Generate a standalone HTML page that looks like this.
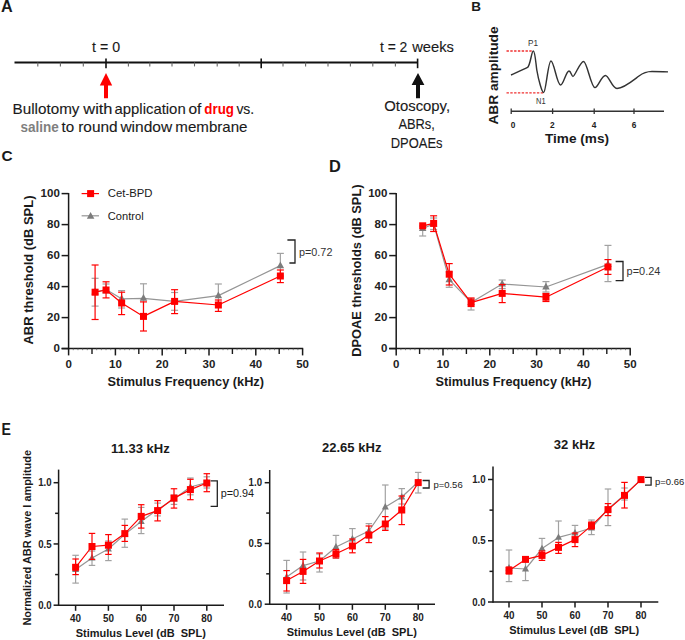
<!DOCTYPE html>
<html><head><meta charset="utf-8"><style>
html,body{margin:0;padding:0;background:#fff;}
svg{display:block;font-family:'Liberation Sans', sans-serif;}
</style></head><body>
<svg width="685" height="640" viewBox="0 0 685 640">
<rect width="685" height="640" fill="#fff"/>
<text x="1.0" y="11.8" font-size="16.2" font-weight="700" text-anchor="start" fill="#1a1a1a" >A</text>
<line x1="14.5" y1="62.4" x2="417.8" y2="62.4" stroke="#111" stroke-width="2" />
<line x1="37.8" y1="62.4" x2="37.8" y2="66.4" stroke="#666" stroke-width="1.1" />
<line x1="60.4" y1="62.4" x2="60.4" y2="66.4" stroke="#666" stroke-width="1.1" />
<line x1="83.3" y1="62.4" x2="83.3" y2="66.4" stroke="#666" stroke-width="1.1" />
<line x1="128.4" y1="62.4" x2="128.4" y2="66.4" stroke="#666" stroke-width="1.1" />
<line x1="149.8" y1="62.4" x2="149.8" y2="66.4" stroke="#666" stroke-width="1.1" />
<line x1="172" y1="62.4" x2="172" y2="66.4" stroke="#666" stroke-width="1.1" />
<line x1="194.5" y1="62.4" x2="194.5" y2="66.4" stroke="#666" stroke-width="1.1" />
<line x1="217.2" y1="62.4" x2="217.2" y2="66.4" stroke="#666" stroke-width="1.1" />
<line x1="239.2" y1="62.4" x2="239.2" y2="66.4" stroke="#666" stroke-width="1.1" />
<line x1="283" y1="62.4" x2="283" y2="66.4" stroke="#666" stroke-width="1.1" />
<line x1="305.6" y1="62.4" x2="305.6" y2="66.4" stroke="#666" stroke-width="1.1" />
<line x1="328" y1="62.4" x2="328" y2="66.4" stroke="#666" stroke-width="1.1" />
<line x1="350.4" y1="62.4" x2="350.4" y2="66.4" stroke="#666" stroke-width="1.1" />
<line x1="372.8" y1="62.4" x2="372.8" y2="66.4" stroke="#666" stroke-width="1.1" />
<line x1="395.4" y1="62.4" x2="395.4" y2="66.4" stroke="#666" stroke-width="1.1" />
<line x1="106" y1="58.6" x2="106" y2="68.2" stroke="#111" stroke-width="1.6" />
<line x1="261.2" y1="58.6" x2="261.2" y2="68.2" stroke="#111" stroke-width="1.6" />
<line x1="417.6" y1="58.6" x2="417.6" y2="68.2" stroke="#111" stroke-width="1.6" />
<polygon points="106,73 112.2,85.5 108,85.5 108,98.3 104,98.3 104,85.5 99.8,85.5" fill="#ff0000"/>
<polygon points="418,73 424.4,85 420,85 420,98.3 416,98.3 416,85 411.6,85" fill="#111"/>
<text x="12.6" y="114" font-size="14.6" font-weight="400" text-anchor="start" fill="#1a1a1a" textLength="66.9" lengthAdjust="spacingAndGlyphs" stroke="#1a1a1a" stroke-width="0.12" >Bullotomy</text>
<text x="83.3" y="114" font-size="14.6" font-weight="400" text-anchor="start" fill="#1a1a1a" textLength="29.18" lengthAdjust="spacingAndGlyphs" stroke="#1a1a1a" stroke-width="0.12" >with</text>
<text x="114.54" y="114" font-size="14.6" font-weight="400" text-anchor="start" fill="#1a1a1a" textLength="71.13" lengthAdjust="spacingAndGlyphs" stroke="#1a1a1a" stroke-width="0.12" >application</text>
<text x="188.47" y="114" font-size="14.6" font-weight="400" text-anchor="start" fill="#1a1a1a" textLength="12.95" lengthAdjust="spacingAndGlyphs" stroke="#1a1a1a" stroke-width="0.12" >of</text>
<text x="204.34" y="114" font-size="14.6" font-weight="700" text-anchor="start" fill="#ff0000" textLength="29.71" lengthAdjust="spacingAndGlyphs" >drug</text>
<text x="236.4" y="114" font-size="14.6" font-weight="400" text-anchor="start" fill="#1a1a1a" textLength="17.85" lengthAdjust="spacingAndGlyphs" stroke="#1a1a1a" stroke-width="0.12" >vs.</text>
<text x="20.44" y="131.8" font-size="14.6" font-weight="700" text-anchor="start" fill="#7f7f7f" textLength="38.35" lengthAdjust="spacingAndGlyphs" >saline</text>
<text x="61.64" y="131.8" font-size="14.6" font-weight="400" text-anchor="start" fill="#1a1a1a" textLength="12.66" lengthAdjust="spacingAndGlyphs" stroke="#1a1a1a" stroke-width="0.12" >to</text>
<text x="78.24" y="131.8" font-size="14.6" font-weight="400" text-anchor="start" fill="#1a1a1a" textLength="39.4" lengthAdjust="spacingAndGlyphs" stroke="#1a1a1a" stroke-width="0.12" >round</text>
<text x="120.4" y="131.8" font-size="14.6" font-weight="400" text-anchor="start" fill="#1a1a1a" textLength="51.73" lengthAdjust="spacingAndGlyphs" stroke="#1a1a1a" stroke-width="0.12" >window</text>
<text x="175.37" y="131.8" font-size="14.6" font-weight="400" text-anchor="start" fill="#1a1a1a" textLength="72.14" lengthAdjust="spacingAndGlyphs" stroke="#1a1a1a" stroke-width="0.12" >membrane</text>
<text x="92.14" y="51.6" font-size="13.8" font-weight="400" text-anchor="start" fill="#1a1a1a" textLength="27.95" lengthAdjust="spacingAndGlyphs" stroke="#1a1a1a" stroke-width="0.12" style="white-space:pre">t = 0</text>
<text x="379.95" y="51.5" font-size="13.8" font-weight="400" text-anchor="start" fill="#1a1a1a" textLength="27.39" lengthAdjust="spacingAndGlyphs" stroke="#1a1a1a" stroke-width="0.12" style="white-space:pre">t = 2</text>
<text x="412.2" y="51.5" font-size="14" font-weight="400" text-anchor="start" fill="#1a1a1a" textLength="41.66" lengthAdjust="spacingAndGlyphs" stroke="#1a1a1a" stroke-width="0.12" >weeks</text>
<text x="384.23" y="111.2" font-size="14.4" font-weight="400" text-anchor="start" fill="#1a1a1a" textLength="65.87" lengthAdjust="spacingAndGlyphs" stroke="#1a1a1a" stroke-width="0.12" >Otoscopy,</text>
<text x="398.4" y="129.1" font-size="14" font-weight="400" text-anchor="start" fill="#1a1a1a" textLength="36.48" lengthAdjust="spacingAndGlyphs" stroke="#1a1a1a" stroke-width="0.12" >ABRs,</text>
<text x="390.75" y="148" font-size="14" font-weight="400" text-anchor="start" fill="#1a1a1a" textLength="51.73" lengthAdjust="spacingAndGlyphs" stroke="#1a1a1a" stroke-width="0.12" >DPOAEs</text>
<text x="471.2" y="10.8" font-size="13.5" font-weight="700" text-anchor="start" fill="#1a1a1a" >B</text>
<text transform="translate(498.1,124.6) rotate(-90)" font-size="13.2" font-weight="700" fill="#1a1a1a" textLength="98.2" lengthAdjust="spacingAndGlyphs">ABR amplitude</text>
<line x1="506.5" y1="51" x2="533" y2="51" stroke="#f03030" stroke-width="1.3" stroke-dasharray="2.4,1.4"/>
<line x1="506.5" y1="92.8" x2="544" y2="92.8" stroke="#f03030" stroke-width="1.3" stroke-dasharray="2.4,1.4"/>
<text x="528" y="45.6" font-size="8.6" font-weight="400" text-anchor="start" fill="#333" textLength="10" lengthAdjust="spacingAndGlyphs" >P1</text>
<text x="536" y="104" font-size="8.6" font-weight="400" text-anchor="start" fill="#333" textLength="9.6" lengthAdjust="spacingAndGlyphs" >N1</text>
<path d="M511,75 C516,73 522,70 527.6,67.4 C530.5,65 531.5,51 533.3,51 C535,51 535.8,63 536.8,70 C538.5,80 542,92.6 543.6,92.6 C546,92.4 548,61 551,61 C554,61 557,85 560.5,85 C563.5,85 566,71 569,71 C571,71 571.5,76.4 573,76.4 C575,76.4 580,61.4 583.6,61.4 C587,61.4 591,87.6 595,87.6 C598,87.6 601.5,75.4 605.4,75.4 C609,75.4 612,88.4 617,88.4 C624,88.4 633,80.5 639,76 C643,73 646,71.6 652,71.4 C658,71.4 664,71.8 668,71.9" fill="none" stroke="#333" stroke-width="1.45" stroke-linejoin="round"/>
<line x1="511" y1="111.2" x2="664" y2="111.2" stroke="#333" stroke-width="1.5" />
<line x1="511.2" y1="108.4" x2="511.2" y2="114" stroke="#333" stroke-width="1.3" />
<line x1="552.6" y1="108.4" x2="552.6" y2="114" stroke="#333" stroke-width="1.3" />
<line x1="594.2" y1="108.4" x2="594.2" y2="114" stroke="#333" stroke-width="1.3" />
<line x1="634" y1="108.4" x2="634" y2="114" stroke="#333" stroke-width="1.3" />
<text x="513" y="127.6" font-size="8.3" font-weight="700" text-anchor="middle" fill="#222" >0</text>
<text x="552.4" y="127.6" font-size="8.3" font-weight="700" text-anchor="middle" fill="#222" >2</text>
<text x="594" y="127.6" font-size="8.3" font-weight="700" text-anchor="middle" fill="#222" >4</text>
<text x="634" y="127.6" font-size="8.3" font-weight="700" text-anchor="middle" fill="#222" >6</text>
<text x="545" y="143" font-size="13.4" font-weight="700" text-anchor="start" fill="#1a1a1a" textLength="64" lengthAdjust="spacingAndGlyphs" >Time (ms)</text>
<text x="1.4" y="161.2" font-size="15.4" font-weight="700" text-anchor="start" fill="#1a1a1a" >C</text>
<line x1="68.6" y1="193.0" x2="68.6" y2="349.35" stroke="#1a1a1a" stroke-width="1.5" />
<line x1="61.599999999999994" y1="348.6" x2="68.6" y2="348.6" stroke="#1a1a1a" stroke-width="1.5" />
<line x1="61.599999999999994" y1="317.6" x2="68.6" y2="317.6" stroke="#1a1a1a" stroke-width="1.5" />
<line x1="61.599999999999994" y1="286.6" x2="68.6" y2="286.6" stroke="#1a1a1a" stroke-width="1.5" />
<line x1="61.599999999999994" y1="255.60000000000002" x2="68.6" y2="255.60000000000002" stroke="#1a1a1a" stroke-width="1.5" />
<line x1="61.599999999999994" y1="224.60000000000002" x2="68.6" y2="224.60000000000002" stroke="#1a1a1a" stroke-width="1.5" />
<line x1="61.599999999999994" y1="193.60000000000002" x2="68.6" y2="193.60000000000002" stroke="#1a1a1a" stroke-width="1.5" />
<text x="59.8" y="352.1" font-size="11.5" font-weight="700" text-anchor="end" fill="#222" >0</text>
<text x="59.8" y="321.1" font-size="11.5" font-weight="700" text-anchor="end" fill="#222" >20</text>
<text x="59.8" y="290.1" font-size="11.5" font-weight="700" text-anchor="end" fill="#222" >40</text>
<text x="59.8" y="259.1" font-size="11.5" font-weight="700" text-anchor="end" fill="#222" >60</text>
<text x="59.8" y="228.10000000000002" font-size="11.5" font-weight="700" text-anchor="end" fill="#222" >80</text>
<text x="59.8" y="197.10000000000002" font-size="11.5" font-weight="700" text-anchor="end" fill="#222" >100</text>
<line x1="61.599999999999994" y1="348.6" x2="303.20000000000005" y2="348.6" stroke="#1a1a1a" stroke-width="1.5" />
<line x1="68.6" y1="348.6" x2="68.6" y2="355.40000000000003" stroke="#1a1a1a" stroke-width="1.5" />
<text x="68.6" y="368" font-size="11.5" font-weight="700" text-anchor="middle" fill="#222" >0</text>
<line x1="115.39999999999999" y1="348.6" x2="115.39999999999999" y2="355.40000000000003" stroke="#1a1a1a" stroke-width="1.5" />
<text x="115.39999999999999" y="368" font-size="11.5" font-weight="700" text-anchor="middle" fill="#222" >10</text>
<line x1="162.2" y1="348.6" x2="162.2" y2="355.40000000000003" stroke="#1a1a1a" stroke-width="1.5" />
<text x="162.2" y="368" font-size="11.5" font-weight="700" text-anchor="middle" fill="#222" >20</text>
<line x1="208.99999999999997" y1="348.6" x2="208.99999999999997" y2="355.40000000000003" stroke="#1a1a1a" stroke-width="1.5" />
<text x="208.99999999999997" y="368" font-size="11.5" font-weight="700" text-anchor="middle" fill="#222" >30</text>
<line x1="255.79999999999998" y1="348.6" x2="255.79999999999998" y2="355.40000000000003" stroke="#1a1a1a" stroke-width="1.5" />
<text x="255.79999999999998" y="368" font-size="11.5" font-weight="700" text-anchor="middle" fill="#222" >40</text>
<line x1="302.6" y1="348.6" x2="302.6" y2="355.40000000000003" stroke="#1a1a1a" stroke-width="1.5" />
<text x="302.6" y="368" font-size="11.5" font-weight="700" text-anchor="middle" fill="#222" >50</text>
<line x1="92.0" y1="348.6" x2="92.0" y2="354.0" stroke="#1a1a1a" stroke-width="1.4" />
<line x1="138.79999999999998" y1="348.6" x2="138.79999999999998" y2="354.0" stroke="#1a1a1a" stroke-width="1.4" />
<line x1="185.6" y1="348.6" x2="185.6" y2="354.0" stroke="#1a1a1a" stroke-width="1.4" />
<line x1="232.39999999999998" y1="348.6" x2="232.39999999999998" y2="354.0" stroke="#1a1a1a" stroke-width="1.4" />
<line x1="279.2" y1="348.6" x2="279.2" y2="354.0" stroke="#1a1a1a" stroke-width="1.4" />
<line x1="73.28" y1="348.6" x2="73.28" y2="350.20000000000005" stroke="#666" stroke-width="0.8" />
<line x1="77.96" y1="348.6" x2="77.96" y2="350.20000000000005" stroke="#666" stroke-width="0.8" />
<line x1="82.63999999999999" y1="348.6" x2="82.63999999999999" y2="350.20000000000005" stroke="#666" stroke-width="0.8" />
<line x1="87.32" y1="348.6" x2="87.32" y2="350.20000000000005" stroke="#666" stroke-width="0.8" />
<line x1="96.67999999999999" y1="348.6" x2="96.67999999999999" y2="350.20000000000005" stroke="#666" stroke-width="0.8" />
<line x1="101.35999999999999" y1="348.6" x2="101.35999999999999" y2="350.20000000000005" stroke="#666" stroke-width="0.8" />
<line x1="106.03999999999999" y1="348.6" x2="106.03999999999999" y2="350.20000000000005" stroke="#666" stroke-width="0.8" />
<line x1="110.72" y1="348.6" x2="110.72" y2="350.20000000000005" stroke="#666" stroke-width="0.8" />
<line x1="120.07999999999998" y1="348.6" x2="120.07999999999998" y2="350.20000000000005" stroke="#666" stroke-width="0.8" />
<line x1="124.75999999999999" y1="348.6" x2="124.75999999999999" y2="350.20000000000005" stroke="#666" stroke-width="0.8" />
<line x1="129.44" y1="348.6" x2="129.44" y2="350.20000000000005" stroke="#666" stroke-width="0.8" />
<line x1="134.12" y1="348.6" x2="134.12" y2="350.20000000000005" stroke="#666" stroke-width="0.8" />
<line x1="143.48" y1="348.6" x2="143.48" y2="350.20000000000005" stroke="#666" stroke-width="0.8" />
<line x1="148.16" y1="348.6" x2="148.16" y2="350.20000000000005" stroke="#666" stroke-width="0.8" />
<line x1="152.83999999999997" y1="348.6" x2="152.83999999999997" y2="350.20000000000005" stroke="#666" stroke-width="0.8" />
<line x1="157.51999999999998" y1="348.6" x2="157.51999999999998" y2="350.20000000000005" stroke="#666" stroke-width="0.8" />
<line x1="166.88" y1="348.6" x2="166.88" y2="350.20000000000005" stroke="#666" stroke-width="0.8" />
<line x1="171.56" y1="348.6" x2="171.56" y2="350.20000000000005" stroke="#666" stroke-width="0.8" />
<line x1="176.23999999999998" y1="348.6" x2="176.23999999999998" y2="350.20000000000005" stroke="#666" stroke-width="0.8" />
<line x1="180.92" y1="348.6" x2="180.92" y2="350.20000000000005" stroke="#666" stroke-width="0.8" />
<line x1="190.27999999999997" y1="348.6" x2="190.27999999999997" y2="350.20000000000005" stroke="#666" stroke-width="0.8" />
<line x1="194.95999999999998" y1="348.6" x2="194.95999999999998" y2="350.20000000000005" stroke="#666" stroke-width="0.8" />
<line x1="199.64" y1="348.6" x2="199.64" y2="350.20000000000005" stroke="#666" stroke-width="0.8" />
<line x1="204.32" y1="348.6" x2="204.32" y2="350.20000000000005" stroke="#666" stroke-width="0.8" />
<line x1="213.67999999999998" y1="348.6" x2="213.67999999999998" y2="350.20000000000005" stroke="#666" stroke-width="0.8" />
<line x1="218.35999999999999" y1="348.6" x2="218.35999999999999" y2="350.20000000000005" stroke="#666" stroke-width="0.8" />
<line x1="223.04" y1="348.6" x2="223.04" y2="350.20000000000005" stroke="#666" stroke-width="0.8" />
<line x1="227.72" y1="348.6" x2="227.72" y2="350.20000000000005" stroke="#666" stroke-width="0.8" />
<line x1="237.07999999999998" y1="348.6" x2="237.07999999999998" y2="350.20000000000005" stroke="#666" stroke-width="0.8" />
<line x1="241.76" y1="348.6" x2="241.76" y2="350.20000000000005" stroke="#666" stroke-width="0.8" />
<line x1="246.43999999999997" y1="348.6" x2="246.43999999999997" y2="350.20000000000005" stroke="#666" stroke-width="0.8" />
<line x1="251.11999999999998" y1="348.6" x2="251.11999999999998" y2="350.20000000000005" stroke="#666" stroke-width="0.8" />
<line x1="260.48" y1="348.6" x2="260.48" y2="350.20000000000005" stroke="#666" stroke-width="0.8" />
<line x1="265.15999999999997" y1="348.6" x2="265.15999999999997" y2="350.20000000000005" stroke="#666" stroke-width="0.8" />
<line x1="269.84" y1="348.6" x2="269.84" y2="350.20000000000005" stroke="#666" stroke-width="0.8" />
<line x1="274.52" y1="348.6" x2="274.52" y2="350.20000000000005" stroke="#666" stroke-width="0.8" />
<line x1="283.88" y1="348.6" x2="283.88" y2="350.20000000000005" stroke="#666" stroke-width="0.8" />
<line x1="288.55999999999995" y1="348.6" x2="288.55999999999995" y2="350.20000000000005" stroke="#666" stroke-width="0.8" />
<line x1="293.24" y1="348.6" x2="293.24" y2="350.20000000000005" stroke="#666" stroke-width="0.8" />
<line x1="297.91999999999996" y1="348.6" x2="297.91999999999996" y2="350.20000000000005" stroke="#666" stroke-width="0.8" />
<text x="107.4" y="385.6" font-size="12.75" font-weight="700" text-anchor="start" fill="#1a1a1a" textLength="156.6" lengthAdjust="spacingAndGlyphs" >Stimulus Frequency (kHz)</text>
<text transform="translate(33.4,344.5) rotate(-90)" font-size="12.8" font-weight="700" fill="#1a1a1a" textLength="149" lengthAdjust="spacingAndGlyphs">ABR threshold (dB SPL)</text>
<line x1="81.6" y1="193.6" x2="99" y2="193.6" stroke="#ff0000" stroke-width="1.2" />
<rect x="87.1" y="190.1" width="7" height="7" fill="#ff0000"/>
<line x1="81.6" y1="215.8" x2="99" y2="215.8" stroke="#959595" stroke-width="1.2" />
<polygon points="90.6,212.015 94.35,218.765 86.85,218.765" fill="#7c7c7c"/>
<text x="107.8" y="197.1" font-size="11.3" font-weight="400" text-anchor="start" fill="#1a1a1a" textLength="44.6" lengthAdjust="spacingAndGlyphs" >Cet-BPD</text>
<text x="107.8" y="219.7" font-size="11.3" font-weight="400" text-anchor="start" fill="#1a1a1a" textLength="35.8" lengthAdjust="spacingAndGlyphs" >Control</text>
<line x1="95.08879999999999" y1="278.3" x2="95.08879999999999" y2="306.1" stroke="#a2a2a2" stroke-width="1.2" />
<line x1="91.58879999999999" y1="278.3" x2="98.58879999999999" y2="278.3" stroke="#a2a2a2" stroke-width="1.2" />
<line x1="91.58879999999999" y1="306.1" x2="98.58879999999999" y2="306.1" stroke="#a2a2a2" stroke-width="1.2" />
<line x1="106.03999999999999" y1="284.0" x2="106.03999999999999" y2="293.0" stroke="#a2a2a2" stroke-width="1.2" />
<line x1="102.53999999999999" y1="284.0" x2="109.53999999999999" y2="284.0" stroke="#a2a2a2" stroke-width="1.2" />
<line x1="102.53999999999999" y1="293.0" x2="109.53999999999999" y2="293.0" stroke="#a2a2a2" stroke-width="1.2" />
<line x1="121.6244" y1="290.6" x2="121.6244" y2="308.0" stroke="#a2a2a2" stroke-width="1.2" />
<line x1="118.1244" y1="290.6" x2="125.1244" y2="290.6" stroke="#a2a2a2" stroke-width="1.2" />
<line x1="118.1244" y1="308.0" x2="125.1244" y2="308.0" stroke="#a2a2a2" stroke-width="1.2" />
<line x1="143.48" y1="283.8" x2="143.48" y2="315.0" stroke="#a2a2a2" stroke-width="1.2" />
<line x1="139.98" y1="283.8" x2="146.98" y2="283.8" stroke="#a2a2a2" stroke-width="1.2" />
<line x1="139.98" y1="315.0" x2="146.98" y2="315.0" stroke="#a2a2a2" stroke-width="1.2" />
<line x1="174.60199999999998" y1="292.5" x2="174.60199999999998" y2="310.3" stroke="#a2a2a2" stroke-width="1.2" />
<line x1="171.10199999999998" y1="292.5" x2="178.10199999999998" y2="292.5" stroke="#a2a2a2" stroke-width="1.2" />
<line x1="171.10199999999998" y1="310.3" x2="178.10199999999998" y2="310.3" stroke="#a2a2a2" stroke-width="1.2" />
<line x1="218.35999999999999" y1="284.0" x2="218.35999999999999" y2="304.5" stroke="#a2a2a2" stroke-width="1.2" />
<line x1="214.85999999999999" y1="284.0" x2="221.85999999999999" y2="284.0" stroke="#a2a2a2" stroke-width="1.2" />
<line x1="214.85999999999999" y1="304.5" x2="221.85999999999999" y2="304.5" stroke="#a2a2a2" stroke-width="1.2" />
<line x1="280.37" y1="253.4" x2="280.37" y2="276.0" stroke="#a2a2a2" stroke-width="1.2" />
<line x1="276.87" y1="253.4" x2="283.87" y2="253.4" stroke="#a2a2a2" stroke-width="1.2" />
<line x1="276.87" y1="276.0" x2="283.87" y2="276.0" stroke="#a2a2a2" stroke-width="1.2" />
<polyline points="95.08879999999999,292.0 106.03999999999999,289.6 121.6244,298.8 143.48,298.3 174.60199999999998,301.4 218.35999999999999,295.6 280.37,265.6" fill="none" stroke="#959595" stroke-width="1.2" stroke-linejoin="round"/>
<polygon points="95.08879999999999,287.815 98.83879999999999,294.565 91.33879999999999,294.565" fill="#7c7c7c"/>
<polygon points="106.03999999999999,285.415 109.78999999999999,292.165 102.28999999999999,292.165" fill="#7c7c7c"/>
<polygon points="121.6244,294.615 125.3744,301.365 117.8744,301.365" fill="#7c7c7c"/>
<polygon points="143.48,294.115 147.23,300.865 139.73,300.865" fill="#7c7c7c"/>
<polygon points="174.60199999999998,297.215 178.35199999999998,303.965 170.85199999999998,303.965" fill="#7c7c7c"/>
<polygon points="218.35999999999999,291.415 222.10999999999999,298.165 214.60999999999999,298.165" fill="#7c7c7c"/>
<polygon points="280.37,261.415 284.12,268.165 276.62,268.165" fill="#7c7c7c"/>
<line x1="95.08879999999999" y1="265.0" x2="95.08879999999999" y2="319.5" stroke="#ff0000" stroke-width="1.2" />
<line x1="91.58879999999999" y1="265.0" x2="98.58879999999999" y2="265.0" stroke="#ff0000" stroke-width="1.2" />
<line x1="91.58879999999999" y1="319.5" x2="98.58879999999999" y2="319.5" stroke="#ff0000" stroke-width="1.2" />
<line x1="106.03999999999999" y1="281.8" x2="106.03999999999999" y2="297.9" stroke="#ff0000" stroke-width="1.2" />
<line x1="102.53999999999999" y1="281.8" x2="109.53999999999999" y2="281.8" stroke="#ff0000" stroke-width="1.2" />
<line x1="102.53999999999999" y1="297.9" x2="109.53999999999999" y2="297.9" stroke="#ff0000" stroke-width="1.2" />
<line x1="121.6244" y1="292.2" x2="121.6244" y2="314.6" stroke="#ff0000" stroke-width="1.2" />
<line x1="118.1244" y1="292.2" x2="125.1244" y2="292.2" stroke="#ff0000" stroke-width="1.2" />
<line x1="118.1244" y1="314.6" x2="125.1244" y2="314.6" stroke="#ff0000" stroke-width="1.2" />
<line x1="143.48" y1="301.9" x2="143.48" y2="331.0" stroke="#ff0000" stroke-width="1.2" />
<line x1="139.98" y1="301.9" x2="146.98" y2="301.9" stroke="#ff0000" stroke-width="1.2" />
<line x1="139.98" y1="331.0" x2="146.98" y2="331.0" stroke="#ff0000" stroke-width="1.2" />
<line x1="174.60199999999998" y1="289.7" x2="174.60199999999998" y2="313.6" stroke="#ff0000" stroke-width="1.2" />
<line x1="171.10199999999998" y1="289.7" x2="178.10199999999998" y2="289.7" stroke="#ff0000" stroke-width="1.2" />
<line x1="171.10199999999998" y1="313.6" x2="178.10199999999998" y2="313.6" stroke="#ff0000" stroke-width="1.2" />
<line x1="218.35999999999999" y1="300.0" x2="218.35999999999999" y2="311.4" stroke="#ff0000" stroke-width="1.2" />
<line x1="214.85999999999999" y1="300.0" x2="221.85999999999999" y2="300.0" stroke="#ff0000" stroke-width="1.2" />
<line x1="214.85999999999999" y1="311.4" x2="221.85999999999999" y2="311.4" stroke="#ff0000" stroke-width="1.2" />
<line x1="280.37" y1="270.0" x2="280.37" y2="282.6" stroke="#ff0000" stroke-width="1.2" />
<line x1="276.87" y1="270.0" x2="283.87" y2="270.0" stroke="#ff0000" stroke-width="1.2" />
<line x1="276.87" y1="282.6" x2="283.87" y2="282.6" stroke="#ff0000" stroke-width="1.2" />
<polyline points="95.08879999999999,292.2 106.03999999999999,290.0 121.6244,303.0 143.48,316.4 174.60199999999998,301.4 218.35999999999999,305.0 280.37,276.0" fill="none" stroke="#ff0000" stroke-width="1.2" stroke-linejoin="round"/>
<rect x="91.58879999999999" y="288.7" width="7" height="7" fill="#ff0000"/>
<rect x="102.53999999999999" y="286.5" width="7" height="7" fill="#ff0000"/>
<rect x="118.1244" y="299.5" width="7" height="7" fill="#ff0000"/>
<rect x="139.98" y="312.9" width="7" height="7" fill="#ff0000"/>
<rect x="171.10199999999998" y="297.9" width="7" height="7" fill="#ff0000"/>
<rect x="214.85999999999999" y="301.5" width="7" height="7" fill="#ff0000"/>
<rect x="276.87" y="272.5" width="7" height="7" fill="#ff0000"/>
<polyline points="287.4,240 295,240 295,263 289.4,263" fill="none" stroke="#222" stroke-width="1.3"/>
<text x="299" y="255.9" font-size="10.8" font-weight="400" text-anchor="start" fill="#333" textLength="33.4" lengthAdjust="spacingAndGlyphs" >p=0.72</text>
<text x="328.9" y="171.8" font-size="16.4" font-weight="700" text-anchor="start" fill="#1a1a1a" >D</text>
<line x1="396.2" y1="193.0" x2="396.2" y2="349.35" stroke="#1a1a1a" stroke-width="1.5" />
<line x1="389.2" y1="348.6" x2="396.2" y2="348.6" stroke="#1a1a1a" stroke-width="1.5" />
<line x1="389.2" y1="317.6" x2="396.2" y2="317.6" stroke="#1a1a1a" stroke-width="1.5" />
<line x1="389.2" y1="286.6" x2="396.2" y2="286.6" stroke="#1a1a1a" stroke-width="1.5" />
<line x1="389.2" y1="255.60000000000002" x2="396.2" y2="255.60000000000002" stroke="#1a1a1a" stroke-width="1.5" />
<line x1="389.2" y1="224.60000000000002" x2="396.2" y2="224.60000000000002" stroke="#1a1a1a" stroke-width="1.5" />
<line x1="389.2" y1="193.60000000000002" x2="396.2" y2="193.60000000000002" stroke="#1a1a1a" stroke-width="1.5" />
<text x="387.4" y="352.1" font-size="11.5" font-weight="700" text-anchor="end" fill="#222" >0</text>
<text x="387.4" y="321.1" font-size="11.5" font-weight="700" text-anchor="end" fill="#222" >20</text>
<text x="387.4" y="290.1" font-size="11.5" font-weight="700" text-anchor="end" fill="#222" >40</text>
<text x="387.4" y="259.1" font-size="11.5" font-weight="700" text-anchor="end" fill="#222" >60</text>
<text x="387.4" y="228.10000000000002" font-size="11.5" font-weight="700" text-anchor="end" fill="#222" >80</text>
<text x="387.4" y="197.10000000000002" font-size="11.5" font-weight="700" text-anchor="end" fill="#222" >100</text>
<line x1="389.2" y1="348.6" x2="630.8000000000001" y2="348.6" stroke="#1a1a1a" stroke-width="1.5" />
<line x1="396.2" y1="348.6" x2="396.2" y2="355.40000000000003" stroke="#1a1a1a" stroke-width="1.5" />
<text x="396.2" y="368" font-size="11.5" font-weight="700" text-anchor="middle" fill="#222" >0</text>
<line x1="443.0" y1="348.6" x2="443.0" y2="355.40000000000003" stroke="#1a1a1a" stroke-width="1.5" />
<text x="443.0" y="368" font-size="11.5" font-weight="700" text-anchor="middle" fill="#222" >10</text>
<line x1="489.79999999999995" y1="348.6" x2="489.79999999999995" y2="355.40000000000003" stroke="#1a1a1a" stroke-width="1.5" />
<text x="489.79999999999995" y="368" font-size="11.5" font-weight="700" text-anchor="middle" fill="#222" >20</text>
<line x1="536.5999999999999" y1="348.6" x2="536.5999999999999" y2="355.40000000000003" stroke="#1a1a1a" stroke-width="1.5" />
<text x="536.5999999999999" y="368" font-size="11.5" font-weight="700" text-anchor="middle" fill="#222" >30</text>
<line x1="583.4" y1="348.6" x2="583.4" y2="355.40000000000003" stroke="#1a1a1a" stroke-width="1.5" />
<text x="583.4" y="368" font-size="11.5" font-weight="700" text-anchor="middle" fill="#222" >40</text>
<line x1="630.2" y1="348.6" x2="630.2" y2="355.40000000000003" stroke="#1a1a1a" stroke-width="1.5" />
<text x="630.2" y="368" font-size="11.5" font-weight="700" text-anchor="middle" fill="#222" >50</text>
<line x1="419.59999999999997" y1="348.6" x2="419.59999999999997" y2="354.0" stroke="#1a1a1a" stroke-width="1.4" />
<line x1="466.4" y1="348.6" x2="466.4" y2="354.0" stroke="#1a1a1a" stroke-width="1.4" />
<line x1="513.2" y1="348.6" x2="513.2" y2="354.0" stroke="#1a1a1a" stroke-width="1.4" />
<line x1="560.0" y1="348.6" x2="560.0" y2="354.0" stroke="#1a1a1a" stroke-width="1.4" />
<line x1="606.8" y1="348.6" x2="606.8" y2="354.0" stroke="#1a1a1a" stroke-width="1.4" />
<line x1="400.88" y1="348.6" x2="400.88" y2="350.20000000000005" stroke="#666" stroke-width="0.8" />
<line x1="405.56" y1="348.6" x2="405.56" y2="350.20000000000005" stroke="#666" stroke-width="0.8" />
<line x1="410.24" y1="348.6" x2="410.24" y2="350.20000000000005" stroke="#666" stroke-width="0.8" />
<line x1="414.91999999999996" y1="348.6" x2="414.91999999999996" y2="350.20000000000005" stroke="#666" stroke-width="0.8" />
<line x1="424.28" y1="348.6" x2="424.28" y2="350.20000000000005" stroke="#666" stroke-width="0.8" />
<line x1="428.96" y1="348.6" x2="428.96" y2="350.20000000000005" stroke="#666" stroke-width="0.8" />
<line x1="433.64" y1="348.6" x2="433.64" y2="350.20000000000005" stroke="#666" stroke-width="0.8" />
<line x1="438.32" y1="348.6" x2="438.32" y2="350.20000000000005" stroke="#666" stroke-width="0.8" />
<line x1="447.68" y1="348.6" x2="447.68" y2="350.20000000000005" stroke="#666" stroke-width="0.8" />
<line x1="452.36" y1="348.6" x2="452.36" y2="350.20000000000005" stroke="#666" stroke-width="0.8" />
<line x1="457.03999999999996" y1="348.6" x2="457.03999999999996" y2="350.20000000000005" stroke="#666" stroke-width="0.8" />
<line x1="461.71999999999997" y1="348.6" x2="461.71999999999997" y2="350.20000000000005" stroke="#666" stroke-width="0.8" />
<line x1="471.08" y1="348.6" x2="471.08" y2="350.20000000000005" stroke="#666" stroke-width="0.8" />
<line x1="475.76" y1="348.6" x2="475.76" y2="350.20000000000005" stroke="#666" stroke-width="0.8" />
<line x1="480.44" y1="348.6" x2="480.44" y2="350.20000000000005" stroke="#666" stroke-width="0.8" />
<line x1="485.12" y1="348.6" x2="485.12" y2="350.20000000000005" stroke="#666" stroke-width="0.8" />
<line x1="494.48" y1="348.6" x2="494.48" y2="350.20000000000005" stroke="#666" stroke-width="0.8" />
<line x1="499.15999999999997" y1="348.6" x2="499.15999999999997" y2="350.20000000000005" stroke="#666" stroke-width="0.8" />
<line x1="503.84" y1="348.6" x2="503.84" y2="350.20000000000005" stroke="#666" stroke-width="0.8" />
<line x1="508.52" y1="348.6" x2="508.52" y2="350.20000000000005" stroke="#666" stroke-width="0.8" />
<line x1="517.88" y1="348.6" x2="517.88" y2="350.20000000000005" stroke="#666" stroke-width="0.8" />
<line x1="522.56" y1="348.6" x2="522.56" y2="350.20000000000005" stroke="#666" stroke-width="0.8" />
<line x1="527.24" y1="348.6" x2="527.24" y2="350.20000000000005" stroke="#666" stroke-width="0.8" />
<line x1="531.92" y1="348.6" x2="531.92" y2="350.20000000000005" stroke="#666" stroke-width="0.8" />
<line x1="541.28" y1="348.6" x2="541.28" y2="350.20000000000005" stroke="#666" stroke-width="0.8" />
<line x1="545.96" y1="348.6" x2="545.96" y2="350.20000000000005" stroke="#666" stroke-width="0.8" />
<line x1="550.64" y1="348.6" x2="550.64" y2="350.20000000000005" stroke="#666" stroke-width="0.8" />
<line x1="555.3199999999999" y1="348.6" x2="555.3199999999999" y2="350.20000000000005" stroke="#666" stroke-width="0.8" />
<line x1="564.68" y1="348.6" x2="564.68" y2="350.20000000000005" stroke="#666" stroke-width="0.8" />
<line x1="569.36" y1="348.6" x2="569.36" y2="350.20000000000005" stroke="#666" stroke-width="0.8" />
<line x1="574.04" y1="348.6" x2="574.04" y2="350.20000000000005" stroke="#666" stroke-width="0.8" />
<line x1="578.72" y1="348.6" x2="578.72" y2="350.20000000000005" stroke="#666" stroke-width="0.8" />
<line x1="588.0799999999999" y1="348.6" x2="588.0799999999999" y2="350.20000000000005" stroke="#666" stroke-width="0.8" />
<line x1="592.76" y1="348.6" x2="592.76" y2="350.20000000000005" stroke="#666" stroke-width="0.8" />
<line x1="597.4399999999999" y1="348.6" x2="597.4399999999999" y2="350.20000000000005" stroke="#666" stroke-width="0.8" />
<line x1="602.12" y1="348.6" x2="602.12" y2="350.20000000000005" stroke="#666" stroke-width="0.8" />
<line x1="611.48" y1="348.6" x2="611.48" y2="350.20000000000005" stroke="#666" stroke-width="0.8" />
<line x1="616.16" y1="348.6" x2="616.16" y2="350.20000000000005" stroke="#666" stroke-width="0.8" />
<line x1="620.8399999999999" y1="348.6" x2="620.8399999999999" y2="350.20000000000005" stroke="#666" stroke-width="0.8" />
<line x1="625.52" y1="348.6" x2="625.52" y2="350.20000000000005" stroke="#666" stroke-width="0.8" />
<text x="435.6" y="385.6" font-size="12.75" font-weight="700" text-anchor="start" fill="#1a1a1a" textLength="156" lengthAdjust="spacingAndGlyphs" >Stimulus Frequency (kHz)</text>
<text transform="translate(360.9,356.7) rotate(-90)" font-size="12.8" font-weight="700" fill="#1a1a1a" textLength="172.2" lengthAdjust="spacingAndGlyphs">DPOAE thresholds (dB SPL)</text>
<line x1="422.6888" y1="226.0" x2="422.6888" y2="236.0" stroke="#a2a2a2" stroke-width="1.2" />
<line x1="419.1888" y1="226.0" x2="426.1888" y2="226.0" stroke="#a2a2a2" stroke-width="1.2" />
<line x1="419.1888" y1="236.0" x2="426.1888" y2="236.0" stroke="#a2a2a2" stroke-width="1.2" />
<line x1="433.64" y1="218.0" x2="433.64" y2="229.5" stroke="#a2a2a2" stroke-width="1.2" />
<line x1="430.14" y1="218.0" x2="437.14" y2="218.0" stroke="#a2a2a2" stroke-width="1.2" />
<line x1="430.14" y1="229.5" x2="437.14" y2="229.5" stroke="#a2a2a2" stroke-width="1.2" />
<line x1="449.2244" y1="272.0" x2="449.2244" y2="287.3" stroke="#a2a2a2" stroke-width="1.2" />
<line x1="445.7244" y1="272.0" x2="452.7244" y2="272.0" stroke="#a2a2a2" stroke-width="1.2" />
<line x1="445.7244" y1="287.3" x2="452.7244" y2="287.3" stroke="#a2a2a2" stroke-width="1.2" />
<line x1="471.08" y1="298.5" x2="471.08" y2="310.0" stroke="#a2a2a2" stroke-width="1.2" />
<line x1="467.58" y1="298.5" x2="474.58" y2="298.5" stroke="#a2a2a2" stroke-width="1.2" />
<line x1="467.58" y1="310.0" x2="474.58" y2="310.0" stroke="#a2a2a2" stroke-width="1.2" />
<line x1="502.202" y1="280.0" x2="502.202" y2="288.5" stroke="#a2a2a2" stroke-width="1.2" />
<line x1="498.702" y1="280.0" x2="505.702" y2="280.0" stroke="#a2a2a2" stroke-width="1.2" />
<line x1="498.702" y1="288.5" x2="505.702" y2="288.5" stroke="#a2a2a2" stroke-width="1.2" />
<line x1="545.96" y1="281.6" x2="545.96" y2="292.0" stroke="#a2a2a2" stroke-width="1.2" />
<line x1="542.46" y1="281.6" x2="549.46" y2="281.6" stroke="#a2a2a2" stroke-width="1.2" />
<line x1="542.46" y1="292.0" x2="549.46" y2="292.0" stroke="#a2a2a2" stroke-width="1.2" />
<line x1="607.97" y1="245.4" x2="607.97" y2="281.6" stroke="#a2a2a2" stroke-width="1.2" />
<line x1="604.47" y1="245.4" x2="611.47" y2="245.4" stroke="#a2a2a2" stroke-width="1.2" />
<line x1="604.47" y1="281.6" x2="611.47" y2="281.6" stroke="#a2a2a2" stroke-width="1.2" />
<polyline points="422.6888,228.5 433.64,224.0 449.2244,279.6 471.08,302.4 502.202,284.0 545.96,287.0 607.97,264.4" fill="none" stroke="#959595" stroke-width="1.2" stroke-linejoin="round"/>
<polygon points="422.6888,224.315 426.4388,231.065 418.9388,231.065" fill="#7c7c7c"/>
<polygon points="433.64,219.815 437.39,226.565 429.89,226.565" fill="#7c7c7c"/>
<polygon points="449.2244,275.415 452.9744,282.165 445.4744,282.165" fill="#7c7c7c"/>
<polygon points="471.08,298.215 474.83,304.965 467.33,304.965" fill="#7c7c7c"/>
<polygon points="502.202,279.815 505.952,286.565 498.452,286.565" fill="#7c7c7c"/>
<polygon points="545.96,282.815 549.71,289.565 542.21,289.565" fill="#7c7c7c"/>
<polygon points="607.97,260.215 611.72,266.965 604.22,266.965" fill="#7c7c7c"/>
<line x1="433.64" y1="215.8" x2="433.64" y2="231.5" stroke="#ff0000" stroke-width="1.2" />
<line x1="430.14" y1="215.8" x2="437.14" y2="215.8" stroke="#ff0000" stroke-width="1.2" />
<line x1="430.14" y1="231.5" x2="437.14" y2="231.5" stroke="#ff0000" stroke-width="1.2" />
<line x1="449.2244" y1="263.6" x2="449.2244" y2="285.0" stroke="#ff0000" stroke-width="1.2" />
<line x1="445.7244" y1="263.6" x2="452.7244" y2="263.6" stroke="#ff0000" stroke-width="1.2" />
<line x1="445.7244" y1="285.0" x2="452.7244" y2="285.0" stroke="#ff0000" stroke-width="1.2" />
<line x1="471.08" y1="298.0" x2="471.08" y2="306.5" stroke="#ff0000" stroke-width="1.2" />
<line x1="467.58" y1="298.0" x2="474.58" y2="298.0" stroke="#ff0000" stroke-width="1.2" />
<line x1="467.58" y1="306.5" x2="474.58" y2="306.5" stroke="#ff0000" stroke-width="1.2" />
<line x1="502.202" y1="284.5" x2="502.202" y2="302.6" stroke="#ff0000" stroke-width="1.2" />
<line x1="498.702" y1="284.5" x2="505.702" y2="284.5" stroke="#ff0000" stroke-width="1.2" />
<line x1="498.702" y1="302.6" x2="505.702" y2="302.6" stroke="#ff0000" stroke-width="1.2" />
<line x1="545.96" y1="293.5" x2="545.96" y2="301.5" stroke="#ff0000" stroke-width="1.2" />
<line x1="542.46" y1="293.5" x2="549.46" y2="293.5" stroke="#ff0000" stroke-width="1.2" />
<line x1="542.46" y1="301.5" x2="549.46" y2="301.5" stroke="#ff0000" stroke-width="1.2" />
<line x1="607.97" y1="259.6" x2="607.97" y2="274.4" stroke="#ff0000" stroke-width="1.2" />
<line x1="604.47" y1="259.6" x2="611.47" y2="259.6" stroke="#ff0000" stroke-width="1.2" />
<line x1="604.47" y1="274.4" x2="611.47" y2="274.4" stroke="#ff0000" stroke-width="1.2" />
<polyline points="422.6888,225.8 433.64,223.4 449.2244,274.2 471.08,302.6 502.202,293.4 545.96,297.2 607.97,267.0" fill="none" stroke="#ff0000" stroke-width="1.2" stroke-linejoin="round"/>
<rect x="419.1888" y="222.3" width="7" height="7" fill="#ff0000"/>
<rect x="430.14" y="219.9" width="7" height="7" fill="#ff0000"/>
<rect x="445.7244" y="270.7" width="7" height="7" fill="#ff0000"/>
<rect x="467.58" y="299.1" width="7" height="7" fill="#ff0000"/>
<rect x="498.702" y="289.9" width="7" height="7" fill="#ff0000"/>
<rect x="542.46" y="293.7" width="7" height="7" fill="#ff0000"/>
<rect x="604.47" y="263.5" width="7" height="7" fill="#ff0000"/>
<polyline points="615.6,261.5 623,261.5 623,280.7 615.6,280.7" fill="none" stroke="#222" stroke-width="1.3"/>
<text x="626.6" y="275.1" font-size="10.8" font-weight="400" text-anchor="start" fill="#333" textLength="33.8" lengthAdjust="spacingAndGlyphs" >p=0.24</text>
<text x="1.5" y="434.9" font-size="15.8" font-weight="700" text-anchor="start" fill="#1a1a1a" textLength="9.4" lengthAdjust="spacingAndGlyphs" >E</text>
<text transform="translate(31.4,625.6) rotate(-90)" font-size="11" font-weight="700" fill="#1a1a1a" textLength="175.6" lengthAdjust="spacingAndGlyphs">Normalized ABR wave I amplitude</text>
<line x1="58.6" y1="469.6" x2="58.6" y2="605.95" stroke="#1a1a1a" stroke-width="1.5" />
<line x1="53.6" y1="605.2" x2="58.6" y2="605.2" stroke="#1a1a1a" stroke-width="1.5" />
<text x="51.6" y="608.8000000000001" font-size="10.3" font-weight="700" text-anchor="end" fill="#222" textLength="13.4" lengthAdjust="spacingAndGlyphs" >0.0</text>
<line x1="53.6" y1="543.95" x2="58.6" y2="543.95" stroke="#1a1a1a" stroke-width="1.5" />
<text x="51.6" y="547.5500000000001" font-size="10.3" font-weight="700" text-anchor="end" fill="#222" textLength="13.4" lengthAdjust="spacingAndGlyphs" >0.5</text>
<line x1="53.6" y1="482.7" x2="58.6" y2="482.7" stroke="#1a1a1a" stroke-width="1.5" />
<text x="51.6" y="486.3" font-size="10.3" font-weight="700" text-anchor="end" fill="#222" textLength="13.4" lengthAdjust="spacingAndGlyphs" >1.0</text>
<line x1="55.1" y1="574.575" x2="58.6" y2="574.575" stroke="#1a1a1a" stroke-width="1.5" />
<line x1="55.1" y1="513.325" x2="58.6" y2="513.325" stroke="#1a1a1a" stroke-width="1.5" />
<line x1="58.6" y1="605.2" x2="224" y2="605.2" stroke="#1a1a1a" stroke-width="1.5" />
<line x1="75.6" y1="605.2" x2="75.6" y2="610.8000000000001" stroke="#1a1a1a" stroke-width="1.5" />
<text x="75.6" y="621.7" font-size="10" font-weight="700" text-anchor="middle" fill="#222" textLength="11" lengthAdjust="spacingAndGlyphs" >40</text>
<line x1="108.39999999999999" y1="605.2" x2="108.39999999999999" y2="610.8000000000001" stroke="#1a1a1a" stroke-width="1.5" />
<text x="108.39999999999999" y="621.7" font-size="10" font-weight="700" text-anchor="middle" fill="#222" textLength="11" lengthAdjust="spacingAndGlyphs" >50</text>
<line x1="141.2" y1="605.2" x2="141.2" y2="610.8000000000001" stroke="#1a1a1a" stroke-width="1.5" />
<text x="141.2" y="621.7" font-size="10" font-weight="700" text-anchor="middle" fill="#222" textLength="11" lengthAdjust="spacingAndGlyphs" >60</text>
<line x1="174.0" y1="605.2" x2="174.0" y2="610.8000000000001" stroke="#1a1a1a" stroke-width="1.5" />
<text x="174.0" y="621.7" font-size="10" font-weight="700" text-anchor="middle" fill="#222" textLength="11" lengthAdjust="spacingAndGlyphs" >70</text>
<line x1="206.79999999999998" y1="605.2" x2="206.79999999999998" y2="610.8000000000001" stroke="#1a1a1a" stroke-width="1.5" />
<text x="206.79999999999998" y="621.7" font-size="10" font-weight="700" text-anchor="middle" fill="#222" textLength="11" lengthAdjust="spacingAndGlyphs" >80</text>
<text x="75.8" y="637.2" font-size="11" font-weight="700" text-anchor="start" fill="#1a1a1a" textLength="130" lengthAdjust="spacingAndGlyphs" style="white-space:pre">Stimulus Level (dB  SPL)</text>
<text x="140.4" y="452.6" font-size="13.3" font-weight="700" text-anchor="middle" fill="#1a1a1a" textLength="58.8" lengthAdjust="spacingAndGlyphs" >11.33 kHz</text>
<line x1="75.6" y1="555.3" x2="75.6" y2="583.1" stroke="#a2a2a2" stroke-width="1.2" />
<line x1="72.35" y1="555.3" x2="78.85" y2="555.3" stroke="#a2a2a2" stroke-width="1.2" />
<line x1="72.35" y1="583.1" x2="78.85" y2="583.1" stroke="#a2a2a2" stroke-width="1.2" />
<line x1="92.0" y1="551.0" x2="92.0" y2="565.4" stroke="#a2a2a2" stroke-width="1.2" />
<line x1="88.75" y1="551.0" x2="95.25" y2="551.0" stroke="#a2a2a2" stroke-width="1.2" />
<line x1="88.75" y1="565.4" x2="95.25" y2="565.4" stroke="#a2a2a2" stroke-width="1.2" />
<line x1="108.39999999999999" y1="541.0" x2="108.39999999999999" y2="560.6" stroke="#a2a2a2" stroke-width="1.2" />
<line x1="105.14999999999999" y1="541.0" x2="111.64999999999999" y2="541.0" stroke="#a2a2a2" stroke-width="1.2" />
<line x1="105.14999999999999" y1="560.6" x2="111.64999999999999" y2="560.6" stroke="#a2a2a2" stroke-width="1.2" />
<line x1="124.79999999999998" y1="519.1" x2="124.79999999999998" y2="547.3" stroke="#a2a2a2" stroke-width="1.2" />
<line x1="121.54999999999998" y1="519.1" x2="128.04999999999998" y2="519.1" stroke="#a2a2a2" stroke-width="1.2" />
<line x1="121.54999999999998" y1="547.3" x2="128.04999999999998" y2="547.3" stroke="#a2a2a2" stroke-width="1.2" />
<line x1="141.2" y1="507.4" x2="141.2" y2="533.6" stroke="#a2a2a2" stroke-width="1.2" />
<line x1="137.95" y1="507.4" x2="144.45" y2="507.4" stroke="#a2a2a2" stroke-width="1.2" />
<line x1="137.95" y1="533.6" x2="144.45" y2="533.6" stroke="#a2a2a2" stroke-width="1.2" />
<line x1="157.6" y1="503.1" x2="157.6" y2="515.9" stroke="#a2a2a2" stroke-width="1.2" />
<line x1="154.35" y1="503.1" x2="160.85" y2="503.1" stroke="#a2a2a2" stroke-width="1.2" />
<line x1="154.35" y1="515.9" x2="160.85" y2="515.9" stroke="#a2a2a2" stroke-width="1.2" />
<line x1="174.0" y1="495.0" x2="174.0" y2="504.4" stroke="#a2a2a2" stroke-width="1.2" />
<line x1="170.75" y1="495.0" x2="177.25" y2="495.0" stroke="#a2a2a2" stroke-width="1.2" />
<line x1="170.75" y1="504.4" x2="177.25" y2="504.4" stroke="#a2a2a2" stroke-width="1.2" />
<line x1="190.39999999999998" y1="478.0" x2="190.39999999999998" y2="494.8" stroke="#a2a2a2" stroke-width="1.2" />
<line x1="187.14999999999998" y1="478.0" x2="193.64999999999998" y2="478.0" stroke="#a2a2a2" stroke-width="1.2" />
<line x1="187.14999999999998" y1="494.8" x2="193.64999999999998" y2="494.8" stroke="#a2a2a2" stroke-width="1.2" />
<line x1="206.79999999999998" y1="476.8" x2="206.79999999999998" y2="488.0" stroke="#a2a2a2" stroke-width="1.2" />
<line x1="203.54999999999998" y1="476.8" x2="210.04999999999998" y2="476.8" stroke="#a2a2a2" stroke-width="1.2" />
<line x1="203.54999999999998" y1="488.0" x2="210.04999999999998" y2="488.0" stroke="#a2a2a2" stroke-width="1.2" />
<polyline points="75.6,569.5 92.0,558.0 108.39999999999999,549.0 124.79999999999998,534.4 141.2,521.5 157.6,509.5 174.0,499.0 190.39999999999998,487.0 206.79999999999998,482.5" fill="none" stroke="#959595" stroke-width="1.2" stroke-linejoin="round"/>
<polygon points="75.6,565.594 79.1,571.894 72.1,571.894" fill="#7c7c7c"/>
<polygon points="92.0,554.094 95.5,560.394 88.5,560.394" fill="#7c7c7c"/>
<polygon points="108.39999999999999,545.094 111.89999999999999,551.394 104.89999999999999,551.394" fill="#7c7c7c"/>
<polygon points="124.79999999999998,530.494 128.29999999999998,536.794 121.29999999999998,536.794" fill="#7c7c7c"/>
<polygon points="141.2,517.594 144.7,523.894 137.7,523.894" fill="#7c7c7c"/>
<polygon points="157.6,505.594 161.1,511.894 154.1,511.894" fill="#7c7c7c"/>
<polygon points="174.0,495.094 177.5,501.394 170.5,501.394" fill="#7c7c7c"/>
<polygon points="190.39999999999998,483.094 193.89999999999998,489.394 186.89999999999998,489.394" fill="#7c7c7c"/>
<polygon points="206.79999999999998,478.594 210.29999999999998,484.894 203.29999999999998,484.894" fill="#7c7c7c"/>
<line x1="75.6" y1="559.0" x2="75.6" y2="574.6" stroke="#ff0000" stroke-width="1.2" />
<line x1="72.35" y1="559.0" x2="78.85" y2="559.0" stroke="#ff0000" stroke-width="1.2" />
<line x1="72.35" y1="574.6" x2="78.85" y2="574.6" stroke="#ff0000" stroke-width="1.2" />
<line x1="92.0" y1="533.4" x2="92.0" y2="559.4" stroke="#ff0000" stroke-width="1.2" />
<line x1="88.75" y1="533.4" x2="95.25" y2="533.4" stroke="#ff0000" stroke-width="1.2" />
<line x1="88.75" y1="559.4" x2="95.25" y2="559.4" stroke="#ff0000" stroke-width="1.2" />
<line x1="108.39999999999999" y1="534.6" x2="108.39999999999999" y2="554.4" stroke="#ff0000" stroke-width="1.2" />
<line x1="105.14999999999999" y1="534.6" x2="111.64999999999999" y2="534.6" stroke="#ff0000" stroke-width="1.2" />
<line x1="105.14999999999999" y1="554.4" x2="111.64999999999999" y2="554.4" stroke="#ff0000" stroke-width="1.2" />
<line x1="124.79999999999998" y1="525.4" x2="124.79999999999998" y2="541.4" stroke="#ff0000" stroke-width="1.2" />
<line x1="121.54999999999998" y1="525.4" x2="128.04999999999998" y2="525.4" stroke="#ff0000" stroke-width="1.2" />
<line x1="121.54999999999998" y1="541.4" x2="128.04999999999998" y2="541.4" stroke="#ff0000" stroke-width="1.2" />
<line x1="141.2" y1="504.7" x2="141.2" y2="528.1" stroke="#ff0000" stroke-width="1.2" />
<line x1="137.95" y1="504.7" x2="144.45" y2="504.7" stroke="#ff0000" stroke-width="1.2" />
<line x1="137.95" y1="528.1" x2="144.45" y2="528.1" stroke="#ff0000" stroke-width="1.2" />
<line x1="157.6" y1="500.6" x2="157.6" y2="520.9" stroke="#ff0000" stroke-width="1.2" />
<line x1="154.35" y1="500.6" x2="160.85" y2="500.6" stroke="#ff0000" stroke-width="1.2" />
<line x1="154.35" y1="520.9" x2="160.85" y2="520.9" stroke="#ff0000" stroke-width="1.2" />
<line x1="174.0" y1="488.75" x2="174.0" y2="508.1" stroke="#ff0000" stroke-width="1.2" />
<line x1="170.75" y1="488.75" x2="177.25" y2="488.75" stroke="#ff0000" stroke-width="1.2" />
<line x1="170.75" y1="508.1" x2="177.25" y2="508.1" stroke="#ff0000" stroke-width="1.2" />
<line x1="190.39999999999998" y1="479.3" x2="190.39999999999998" y2="499.7" stroke="#ff0000" stroke-width="1.2" />
<line x1="187.14999999999998" y1="479.3" x2="193.64999999999998" y2="479.3" stroke="#ff0000" stroke-width="1.2" />
<line x1="187.14999999999998" y1="499.7" x2="193.64999999999998" y2="499.7" stroke="#ff0000" stroke-width="1.2" />
<line x1="206.79999999999998" y1="473.7" x2="206.79999999999998" y2="491.7" stroke="#ff0000" stroke-width="1.2" />
<line x1="203.54999999999998" y1="473.7" x2="210.04999999999998" y2="473.7" stroke="#ff0000" stroke-width="1.2" />
<line x1="203.54999999999998" y1="491.7" x2="210.04999999999998" y2="491.7" stroke="#ff0000" stroke-width="1.2" />
<polyline points="75.6,567.3 92.0,546.5 108.39999999999999,545.2 124.79999999999998,533.6 141.2,516.4 157.6,510.6 174.0,498.1 190.39999999999998,489.6 206.79999999999998,483.0" fill="none" stroke="#ff0000" stroke-width="1.2" stroke-linejoin="round"/>
<rect x="72.1" y="563.8" width="7" height="7" fill="#ff0000"/>
<rect x="88.5" y="543.0" width="7" height="7" fill="#ff0000"/>
<rect x="104.89999999999999" y="541.7" width="7" height="7" fill="#ff0000"/>
<rect x="121.29999999999998" y="530.1" width="7" height="7" fill="#ff0000"/>
<rect x="137.7" y="512.9" width="7" height="7" fill="#ff0000"/>
<rect x="154.1" y="507.1" width="7" height="7" fill="#ff0000"/>
<rect x="170.5" y="494.6" width="7" height="7" fill="#ff0000"/>
<rect x="186.89999999999998" y="486.1" width="7" height="7" fill="#ff0000"/>
<rect x="203.29999999999998" y="479.5" width="7" height="7" fill="#ff0000"/>
<polyline points="210.6,480.9 217.3,480.9 217.3,506.3 210.6,506.3" fill="none" stroke="#222" stroke-width="1.3"/>
<text x="220.70000000000002" y="496.9" font-size="10.8" font-weight="400" text-anchor="start" fill="#1a1a1a" textLength="33.4" lengthAdjust="spacingAndGlyphs" >p=0.94</text>
<line x1="269.7" y1="470" x2="269.7" y2="604.95" stroke="#1a1a1a" stroke-width="1.5" />
<line x1="264.7" y1="604.2" x2="269.7" y2="604.2" stroke="#1a1a1a" stroke-width="1.5" />
<text x="262" y="607.8000000000001" font-size="10.3" font-weight="700" text-anchor="end" fill="#222" textLength="13.4" lengthAdjust="spacingAndGlyphs" >0.0</text>
<line x1="264.7" y1="543.45" x2="269.7" y2="543.45" stroke="#1a1a1a" stroke-width="1.5" />
<text x="262" y="547.0500000000001" font-size="10.3" font-weight="700" text-anchor="end" fill="#222" textLength="13.4" lengthAdjust="spacingAndGlyphs" >0.5</text>
<line x1="264.7" y1="482.7" x2="269.7" y2="482.7" stroke="#1a1a1a" stroke-width="1.5" />
<text x="262" y="486.3" font-size="10.3" font-weight="700" text-anchor="end" fill="#222" textLength="13.4" lengthAdjust="spacingAndGlyphs" >1.0</text>
<line x1="266.2" y1="573.825" x2="269.7" y2="573.825" stroke="#1a1a1a" stroke-width="1.5" />
<line x1="266.2" y1="513.075" x2="269.7" y2="513.075" stroke="#1a1a1a" stroke-width="1.5" />
<line x1="269.7" y1="604.2" x2="435" y2="604.2" stroke="#1a1a1a" stroke-width="1.5" />
<line x1="286.6" y1="604.2" x2="286.6" y2="609.8000000000001" stroke="#1a1a1a" stroke-width="1.5" />
<text x="286.6" y="620.7" font-size="10" font-weight="700" text-anchor="middle" fill="#222" textLength="11" lengthAdjust="spacingAndGlyphs" >40</text>
<line x1="319.5" y1="604.2" x2="319.5" y2="609.8000000000001" stroke="#1a1a1a" stroke-width="1.5" />
<text x="319.5" y="620.7" font-size="10" font-weight="700" text-anchor="middle" fill="#222" textLength="11" lengthAdjust="spacingAndGlyphs" >50</text>
<line x1="352.40000000000003" y1="604.2" x2="352.40000000000003" y2="609.8000000000001" stroke="#1a1a1a" stroke-width="1.5" />
<text x="352.40000000000003" y="620.7" font-size="10" font-weight="700" text-anchor="middle" fill="#222" textLength="11" lengthAdjust="spacingAndGlyphs" >60</text>
<line x1="385.3" y1="604.2" x2="385.3" y2="609.8000000000001" stroke="#1a1a1a" stroke-width="1.5" />
<text x="385.3" y="620.7" font-size="10" font-weight="700" text-anchor="middle" fill="#222" textLength="11" lengthAdjust="spacingAndGlyphs" >70</text>
<line x1="418.20000000000005" y1="604.2" x2="418.20000000000005" y2="609.8000000000001" stroke="#1a1a1a" stroke-width="1.5" />
<text x="418.20000000000005" y="620.7" font-size="10" font-weight="700" text-anchor="middle" fill="#222" textLength="11" lengthAdjust="spacingAndGlyphs" >80</text>
<text x="286.8" y="636.2" font-size="11" font-weight="700" text-anchor="start" fill="#1a1a1a" textLength="130" lengthAdjust="spacingAndGlyphs" style="white-space:pre">Stimulus Level (dB  SPL)</text>
<text x="351.7" y="452.4" font-size="13.3" font-weight="700" text-anchor="middle" fill="#1a1a1a" textLength="59.5" lengthAdjust="spacingAndGlyphs" >22.65 kHz</text>
<line x1="286.6" y1="560.4" x2="286.6" y2="593.0" stroke="#a2a2a2" stroke-width="1.2" />
<line x1="283.35" y1="560.4" x2="289.85" y2="560.4" stroke="#a2a2a2" stroke-width="1.2" />
<line x1="283.35" y1="593.0" x2="289.85" y2="593.0" stroke="#a2a2a2" stroke-width="1.2" />
<line x1="303.05" y1="552.0" x2="303.05" y2="580.0" stroke="#a2a2a2" stroke-width="1.2" />
<line x1="299.8" y1="552.0" x2="306.3" y2="552.0" stroke="#a2a2a2" stroke-width="1.2" />
<line x1="299.8" y1="580.0" x2="306.3" y2="580.0" stroke="#a2a2a2" stroke-width="1.2" />
<line x1="319.5" y1="554.0" x2="319.5" y2="572.0" stroke="#a2a2a2" stroke-width="1.2" />
<line x1="316.25" y1="554.0" x2="322.75" y2="554.0" stroke="#a2a2a2" stroke-width="1.2" />
<line x1="316.25" y1="572.0" x2="322.75" y2="572.0" stroke="#a2a2a2" stroke-width="1.2" />
<line x1="335.95000000000005" y1="535.4" x2="335.95000000000005" y2="558.0" stroke="#a2a2a2" stroke-width="1.2" />
<line x1="332.70000000000005" y1="535.4" x2="339.20000000000005" y2="535.4" stroke="#a2a2a2" stroke-width="1.2" />
<line x1="332.70000000000005" y1="558.0" x2="339.20000000000005" y2="558.0" stroke="#a2a2a2" stroke-width="1.2" />
<line x1="352.40000000000003" y1="528.6" x2="352.40000000000003" y2="546.0" stroke="#a2a2a2" stroke-width="1.2" />
<line x1="349.15000000000003" y1="528.6" x2="355.65000000000003" y2="528.6" stroke="#a2a2a2" stroke-width="1.2" />
<line x1="349.15000000000003" y1="546.0" x2="355.65000000000003" y2="546.0" stroke="#a2a2a2" stroke-width="1.2" />
<line x1="368.85" y1="523.6" x2="368.85" y2="538.0" stroke="#a2a2a2" stroke-width="1.2" />
<line x1="365.6" y1="523.6" x2="372.1" y2="523.6" stroke="#a2a2a2" stroke-width="1.2" />
<line x1="365.6" y1="538.0" x2="372.1" y2="538.0" stroke="#a2a2a2" stroke-width="1.2" />
<line x1="385.3" y1="485.0" x2="385.3" y2="529.0" stroke="#a2a2a2" stroke-width="1.2" />
<line x1="382.05" y1="485.0" x2="388.55" y2="485.0" stroke="#a2a2a2" stroke-width="1.2" />
<line x1="382.05" y1="529.0" x2="388.55" y2="529.0" stroke="#a2a2a2" stroke-width="1.2" />
<line x1="401.75" y1="488.6" x2="401.75" y2="504.0" stroke="#a2a2a2" stroke-width="1.2" />
<line x1="398.5" y1="488.6" x2="405.0" y2="488.6" stroke="#a2a2a2" stroke-width="1.2" />
<line x1="398.5" y1="504.0" x2="405.0" y2="504.0" stroke="#a2a2a2" stroke-width="1.2" />
<line x1="418.20000000000005" y1="472.4" x2="418.20000000000005" y2="493.0" stroke="#a2a2a2" stroke-width="1.2" />
<line x1="414.95000000000005" y1="472.4" x2="421.45000000000005" y2="472.4" stroke="#a2a2a2" stroke-width="1.2" />
<line x1="414.95000000000005" y1="493.0" x2="421.45000000000005" y2="493.0" stroke="#a2a2a2" stroke-width="1.2" />
<polyline points="286.6,577.0 303.05,565.6 319.5,561.0 335.95000000000005,547.0 352.40000000000003,539.0 368.85,531.0 385.3,507.0 401.75,497.0 418.20000000000005,482.0" fill="none" stroke="#959595" stroke-width="1.2" stroke-linejoin="round"/>
<polygon points="286.6,573.094 290.1,579.394 283.1,579.394" fill="#7c7c7c"/>
<polygon points="303.05,561.6940000000001 306.55,567.994 299.55,567.994" fill="#7c7c7c"/>
<polygon points="319.5,557.094 323.0,563.394 316.0,563.394" fill="#7c7c7c"/>
<polygon points="335.95000000000005,543.094 339.45000000000005,549.394 332.45000000000005,549.394" fill="#7c7c7c"/>
<polygon points="352.40000000000003,535.094 355.90000000000003,541.394 348.90000000000003,541.394" fill="#7c7c7c"/>
<polygon points="368.85,527.094 372.35,533.394 365.35,533.394" fill="#7c7c7c"/>
<polygon points="385.3,503.094 388.8,509.394 381.8,509.394" fill="#7c7c7c"/>
<polygon points="401.75,493.094 405.25,499.394 398.25,499.394" fill="#7c7c7c"/>
<polygon points="418.20000000000005,478.094 421.70000000000005,484.394 414.70000000000005,484.394" fill="#7c7c7c"/>
<line x1="286.6" y1="570.6" x2="286.6" y2="591.0" stroke="#ff0000" stroke-width="1.2" />
<line x1="283.35" y1="570.6" x2="289.85" y2="570.6" stroke="#ff0000" stroke-width="1.2" />
<line x1="283.35" y1="591.0" x2="289.85" y2="591.0" stroke="#ff0000" stroke-width="1.2" />
<line x1="303.05" y1="559.4" x2="303.05" y2="583.4" stroke="#ff0000" stroke-width="1.2" />
<line x1="299.8" y1="559.4" x2="306.3" y2="559.4" stroke="#ff0000" stroke-width="1.2" />
<line x1="299.8" y1="583.4" x2="306.3" y2="583.4" stroke="#ff0000" stroke-width="1.2" />
<line x1="319.5" y1="553.0" x2="319.5" y2="568.0" stroke="#ff0000" stroke-width="1.2" />
<line x1="316.25" y1="553.0" x2="322.75" y2="553.0" stroke="#ff0000" stroke-width="1.2" />
<line x1="316.25" y1="568.0" x2="322.75" y2="568.0" stroke="#ff0000" stroke-width="1.2" />
<line x1="335.95000000000005" y1="549.5" x2="335.95000000000005" y2="558.0" stroke="#ff0000" stroke-width="1.2" />
<line x1="332.70000000000005" y1="549.5" x2="339.20000000000005" y2="549.5" stroke="#ff0000" stroke-width="1.2" />
<line x1="332.70000000000005" y1="558.0" x2="339.20000000000005" y2="558.0" stroke="#ff0000" stroke-width="1.2" />
<line x1="352.40000000000003" y1="539.0" x2="352.40000000000003" y2="552.8" stroke="#ff0000" stroke-width="1.2" />
<line x1="349.15000000000003" y1="539.0" x2="355.65000000000003" y2="539.0" stroke="#ff0000" stroke-width="1.2" />
<line x1="349.15000000000003" y1="552.8" x2="355.65000000000003" y2="552.8" stroke="#ff0000" stroke-width="1.2" />
<line x1="368.85" y1="526.0" x2="368.85" y2="542.6" stroke="#ff0000" stroke-width="1.2" />
<line x1="365.6" y1="526.0" x2="372.1" y2="526.0" stroke="#ff0000" stroke-width="1.2" />
<line x1="365.6" y1="542.6" x2="372.1" y2="542.6" stroke="#ff0000" stroke-width="1.2" />
<line x1="385.3" y1="516.6" x2="385.3" y2="530.4" stroke="#ff0000" stroke-width="1.2" />
<line x1="382.05" y1="516.6" x2="388.55" y2="516.6" stroke="#ff0000" stroke-width="1.2" />
<line x1="382.05" y1="530.4" x2="388.55" y2="530.4" stroke="#ff0000" stroke-width="1.2" />
<line x1="401.75" y1="496.0" x2="401.75" y2="524.6" stroke="#ff0000" stroke-width="1.2" />
<line x1="398.5" y1="496.0" x2="405.0" y2="496.0" stroke="#ff0000" stroke-width="1.2" />
<line x1="398.5" y1="524.6" x2="405.0" y2="524.6" stroke="#ff0000" stroke-width="1.2" />
<polyline points="286.6,580.6 303.05,571.4 319.5,561.0 335.95000000000005,553.8 352.40000000000003,546.0 368.85,535.0 385.3,524.0 401.75,510.0 418.20000000000005,482.6" fill="none" stroke="#ff0000" stroke-width="1.2" stroke-linejoin="round"/>
<rect x="283.1" y="577.1" width="7" height="7" fill="#ff0000"/>
<rect x="299.55" y="567.9" width="7" height="7" fill="#ff0000"/>
<rect x="316.0" y="557.5" width="7" height="7" fill="#ff0000"/>
<rect x="332.45000000000005" y="550.3" width="7" height="7" fill="#ff0000"/>
<rect x="348.90000000000003" y="542.5" width="7" height="7" fill="#ff0000"/>
<rect x="365.35" y="531.5" width="7" height="7" fill="#ff0000"/>
<rect x="381.8" y="520.5" width="7" height="7" fill="#ff0000"/>
<rect x="398.25" y="506.5" width="7" height="7" fill="#ff0000"/>
<rect x="414.70000000000005" y="479.1" width="7" height="7" fill="#ff0000"/>
<polyline points="422.6,480.5 429.1,480.5 429.1,488 422.6,488" fill="none" stroke="#222" stroke-width="1.3"/>
<text x="433.40000000000003" y="488" font-size="9.8" font-weight="400" text-anchor="start" fill="#1a1a1a" textLength="29.3" lengthAdjust="spacingAndGlyphs" >p=0.56</text>
<line x1="493" y1="466.6" x2="493" y2="602.75" stroke="#1a1a1a" stroke-width="1.5" />
<line x1="488" y1="602.0" x2="493" y2="602.0" stroke="#1a1a1a" stroke-width="1.5" />
<text x="485.6" y="605.6" font-size="10.3" font-weight="700" text-anchor="end" fill="#222" textLength="13.4" lengthAdjust="spacingAndGlyphs" >0.0</text>
<line x1="488" y1="540.75" x2="493" y2="540.75" stroke="#1a1a1a" stroke-width="1.5" />
<text x="485.6" y="544.35" font-size="10.3" font-weight="700" text-anchor="end" fill="#222" textLength="13.4" lengthAdjust="spacingAndGlyphs" >0.5</text>
<line x1="488" y1="479.5" x2="493" y2="479.5" stroke="#1a1a1a" stroke-width="1.5" />
<text x="485.6" y="483.1" font-size="10.3" font-weight="700" text-anchor="end" fill="#222" textLength="13.4" lengthAdjust="spacingAndGlyphs" >1.0</text>
<line x1="489.5" y1="571.375" x2="493" y2="571.375" stroke="#1a1a1a" stroke-width="1.5" />
<line x1="489.5" y1="510.125" x2="493" y2="510.125" stroke="#1a1a1a" stroke-width="1.5" />
<line x1="493" y1="602" x2="658.3" y2="602" stroke="#1a1a1a" stroke-width="1.5" />
<line x1="509.0" y1="602" x2="509.0" y2="607.6" stroke="#1a1a1a" stroke-width="1.5" />
<text x="509.0" y="618.5" font-size="10" font-weight="700" text-anchor="middle" fill="#222" textLength="11" lengthAdjust="spacingAndGlyphs" >40</text>
<line x1="542.0" y1="602" x2="542.0" y2="607.6" stroke="#1a1a1a" stroke-width="1.5" />
<text x="542.0" y="618.5" font-size="10" font-weight="700" text-anchor="middle" fill="#222" textLength="11" lengthAdjust="spacingAndGlyphs" >50</text>
<line x1="575.0" y1="602" x2="575.0" y2="607.6" stroke="#1a1a1a" stroke-width="1.5" />
<text x="575.0" y="618.5" font-size="10" font-weight="700" text-anchor="middle" fill="#222" textLength="11" lengthAdjust="spacingAndGlyphs" >60</text>
<line x1="608.0" y1="602" x2="608.0" y2="607.6" stroke="#1a1a1a" stroke-width="1.5" />
<text x="608.0" y="618.5" font-size="10" font-weight="700" text-anchor="middle" fill="#222" textLength="11" lengthAdjust="spacingAndGlyphs" >70</text>
<line x1="641.0" y1="602" x2="641.0" y2="607.6" stroke="#1a1a1a" stroke-width="1.5" />
<text x="641.0" y="618.5" font-size="10" font-weight="700" text-anchor="middle" fill="#222" textLength="11" lengthAdjust="spacingAndGlyphs" >80</text>
<text x="509.2" y="634" font-size="11" font-weight="700" text-anchor="start" fill="#1a1a1a" textLength="130" lengthAdjust="spacingAndGlyphs" style="white-space:pre">Stimulus Level (dB  SPL)</text>
<text x="574.5" y="449.4" font-size="13.3" font-weight="700" text-anchor="middle" fill="#1a1a1a" textLength="41.3" lengthAdjust="spacingAndGlyphs" >32 kHz</text>
<line x1="509.0" y1="550.0" x2="509.0" y2="581.6" stroke="#a2a2a2" stroke-width="1.2" />
<line x1="505.75" y1="550.0" x2="512.25" y2="550.0" stroke="#a2a2a2" stroke-width="1.2" />
<line x1="505.75" y1="581.6" x2="512.25" y2="581.6" stroke="#a2a2a2" stroke-width="1.2" />
<line x1="525.5" y1="560.0" x2="525.5" y2="580.6" stroke="#a2a2a2" stroke-width="1.2" />
<line x1="522.25" y1="560.0" x2="528.75" y2="560.0" stroke="#a2a2a2" stroke-width="1.2" />
<line x1="522.25" y1="580.6" x2="528.75" y2="580.6" stroke="#a2a2a2" stroke-width="1.2" />
<line x1="542.0" y1="538.4" x2="542.0" y2="556.0" stroke="#a2a2a2" stroke-width="1.2" />
<line x1="538.75" y1="538.4" x2="545.25" y2="538.4" stroke="#a2a2a2" stroke-width="1.2" />
<line x1="538.75" y1="556.0" x2="545.25" y2="556.0" stroke="#a2a2a2" stroke-width="1.2" />
<line x1="558.5" y1="521.0" x2="558.5" y2="545.0" stroke="#a2a2a2" stroke-width="1.2" />
<line x1="555.25" y1="521.0" x2="561.75" y2="521.0" stroke="#a2a2a2" stroke-width="1.2" />
<line x1="555.25" y1="545.0" x2="561.75" y2="545.0" stroke="#a2a2a2" stroke-width="1.2" />
<line x1="575.0" y1="525.4" x2="575.0" y2="540.0" stroke="#a2a2a2" stroke-width="1.2" />
<line x1="571.75" y1="525.4" x2="578.25" y2="525.4" stroke="#a2a2a2" stroke-width="1.2" />
<line x1="571.75" y1="540.0" x2="578.25" y2="540.0" stroke="#a2a2a2" stroke-width="1.2" />
<line x1="591.5" y1="520.0" x2="591.5" y2="534.6" stroke="#a2a2a2" stroke-width="1.2" />
<line x1="588.25" y1="520.0" x2="594.75" y2="520.0" stroke="#a2a2a2" stroke-width="1.2" />
<line x1="588.25" y1="534.6" x2="594.75" y2="534.6" stroke="#a2a2a2" stroke-width="1.2" />
<line x1="608.0" y1="489.0" x2="608.0" y2="525.6" stroke="#a2a2a2" stroke-width="1.2" />
<line x1="604.75" y1="489.0" x2="611.25" y2="489.0" stroke="#a2a2a2" stroke-width="1.2" />
<line x1="604.75" y1="525.6" x2="611.25" y2="525.6" stroke="#a2a2a2" stroke-width="1.2" />
<line x1="624.5" y1="488.0" x2="624.5" y2="500.0" stroke="#a2a2a2" stroke-width="1.2" />
<line x1="621.25" y1="488.0" x2="627.75" y2="488.0" stroke="#a2a2a2" stroke-width="1.2" />
<line x1="621.25" y1="500.0" x2="627.75" y2="500.0" stroke="#a2a2a2" stroke-width="1.2" />
<polyline points="509.0,568.0 525.5,569.0 542.0,548.6 558.5,537.4 575.0,533.0 591.5,528.0 608.0,509.0 624.5,495.0 641.0,479.6" fill="none" stroke="#959595" stroke-width="1.2" stroke-linejoin="round"/>
<polygon points="509.0,564.094 512.5,570.394 505.5,570.394" fill="#7c7c7c"/>
<polygon points="525.5,565.094 529.0,571.394 522.0,571.394" fill="#7c7c7c"/>
<polygon points="542.0,544.6940000000001 545.5,550.994 538.5,550.994" fill="#7c7c7c"/>
<polygon points="558.5,533.494 562.0,539.794 555.0,539.794" fill="#7c7c7c"/>
<polygon points="575.0,529.094 578.5,535.394 571.5,535.394" fill="#7c7c7c"/>
<polygon points="591.5,524.094 595.0,530.394 588.0,530.394" fill="#7c7c7c"/>
<polygon points="608.0,505.094 611.5,511.394 604.5,511.394" fill="#7c7c7c"/>
<polygon points="624.5,491.094 628.0,497.394 621.0,497.394" fill="#7c7c7c"/>
<polygon points="641.0,475.694 644.5,481.994 637.5,481.994" fill="#7c7c7c"/>
<line x1="509.0" y1="567.0" x2="509.0" y2="574.0" stroke="#ff0000" stroke-width="1.2" />
<line x1="505.75" y1="567.0" x2="512.25" y2="567.0" stroke="#ff0000" stroke-width="1.2" />
<line x1="505.75" y1="574.0" x2="512.25" y2="574.0" stroke="#ff0000" stroke-width="1.2" />
<line x1="542.0" y1="551.0" x2="542.0" y2="560.4" stroke="#ff0000" stroke-width="1.2" />
<line x1="538.75" y1="551.0" x2="545.25" y2="551.0" stroke="#ff0000" stroke-width="1.2" />
<line x1="538.75" y1="560.4" x2="545.25" y2="560.4" stroke="#ff0000" stroke-width="1.2" />
<line x1="558.5" y1="542.4" x2="558.5" y2="553.4" stroke="#ff0000" stroke-width="1.2" />
<line x1="555.25" y1="542.4" x2="561.75" y2="542.4" stroke="#ff0000" stroke-width="1.2" />
<line x1="555.25" y1="553.4" x2="561.75" y2="553.4" stroke="#ff0000" stroke-width="1.2" />
<line x1="575.0" y1="533.0" x2="575.0" y2="546.6" stroke="#ff0000" stroke-width="1.2" />
<line x1="571.75" y1="533.0" x2="578.25" y2="533.0" stroke="#ff0000" stroke-width="1.2" />
<line x1="571.75" y1="546.6" x2="578.25" y2="546.6" stroke="#ff0000" stroke-width="1.2" />
<line x1="591.5" y1="522.0" x2="591.5" y2="529.0" stroke="#ff0000" stroke-width="1.2" />
<line x1="588.25" y1="522.0" x2="594.75" y2="522.0" stroke="#ff0000" stroke-width="1.2" />
<line x1="588.25" y1="529.0" x2="594.75" y2="529.0" stroke="#ff0000" stroke-width="1.2" />
<line x1="608.0" y1="503.6" x2="608.0" y2="515.6" stroke="#ff0000" stroke-width="1.2" />
<line x1="604.75" y1="503.6" x2="611.25" y2="503.6" stroke="#ff0000" stroke-width="1.2" />
<line x1="604.75" y1="515.6" x2="611.25" y2="515.6" stroke="#ff0000" stroke-width="1.2" />
<line x1="624.5" y1="482.4" x2="624.5" y2="508.0" stroke="#ff0000" stroke-width="1.2" />
<line x1="621.25" y1="482.4" x2="627.75" y2="482.4" stroke="#ff0000" stroke-width="1.2" />
<line x1="621.25" y1="508.0" x2="627.75" y2="508.0" stroke="#ff0000" stroke-width="1.2" />
<polyline points="509.0,570.6 525.5,559.4 542.0,555.4 558.5,547.4 575.0,539.6 591.5,525.6 608.0,509.6 624.5,495.4 641.0,479.6" fill="none" stroke="#ff0000" stroke-width="1.2" stroke-linejoin="round"/>
<rect x="505.5" y="567.1" width="7" height="7" fill="#ff0000"/>
<rect x="522.0" y="555.9" width="7" height="7" fill="#ff0000"/>
<rect x="538.5" y="551.9" width="7" height="7" fill="#ff0000"/>
<rect x="555.0" y="543.9" width="7" height="7" fill="#ff0000"/>
<rect x="571.5" y="536.1" width="7" height="7" fill="#ff0000"/>
<rect x="588.0" y="522.1" width="7" height="7" fill="#ff0000"/>
<rect x="604.5" y="506.1" width="7" height="7" fill="#ff0000"/>
<rect x="621.0" y="491.9" width="7" height="7" fill="#ff0000"/>
<rect x="637.5" y="476.1" width="7" height="7" fill="#ff0000"/>
<polyline points="645,477.4 651.1,477.4 651.1,485.2 645,485.2" fill="none" stroke="#222" stroke-width="1.3"/>
<text x="655.0" y="484.6" font-size="9.8" font-weight="400" text-anchor="start" fill="#1a1a1a" textLength="29.3" lengthAdjust="spacingAndGlyphs" >p=0.66</text>
</svg>
</body></html>
